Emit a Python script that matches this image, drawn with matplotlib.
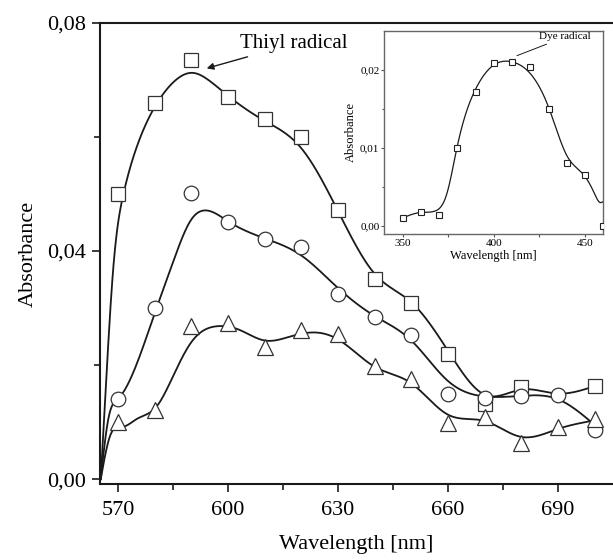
import numpy as np
import matplotlib
matplotlib.use("Agg")
import matplotlib.pyplot as plt
from matplotlib.ticker import FixedLocator, FuncFormatter

plt.rcParams["font.family"] = ["Liberation Serif", "DejaVu Serif"]

# measured points, main panel
wl = [570, 580, 590, 600, 610, 620, 630, 640, 650, 660, 670, 680, 690, 700]
abs_sq = [0.050, 0.0660, 0.0735, 0.0670, 0.0632, 0.0600, 0.0472, 0.0351, 0.0308,
          0.0220, 0.0131, 0.0162, np.nan, 0.0163]
abs_ci = [0.0140, 0.0300, 0.0502, 0.0451, 0.0421, 0.0407, 0.0324, 0.0284, 0.0253,
          0.0149, 0.0143, 0.0146, 0.0147, 0.0086]
abs_tr = [0.0101, 0.0122, 0.0269, 0.0273, 0.0232, 0.0261, 0.0254, 0.0198, 0.0176,
          0.0098, 0.0109, 0.0064, 0.0092, 0.0105]

# smoothed fit curves (knots)
fit_sq_x = [565.3, 566.8, 568.6, 571.5, 575, 580, 585, 590.5, 595, 600,
            610, 620, 630, 640, 650, 660, 670, 680, 690, 700]
fit_sq_y = [0.0, 0.0174, 0.036, 0.050, 0.058, 0.0652, 0.0695,
            0.0712, 0.0698, 0.0672, 0.0628, 0.0580, 0.0470,
            0.0360, 0.0310, 0.0225, 0.0148, 0.0157, 0.0150, 0.0163]
fit_ci_x = [565.3, 567.3, 570, 575, 580, 585, 590, 593.7, 600, 610,
            620, 630, 640, 650, 660, 670, 680, 690, 700]
fit_ci_y = [0.0, 0.0103, 0.0141, 0.020, 0.029, 0.038, 0.0455, 0.0471,
            0.0452, 0.0422, 0.0392, 0.0335, 0.0286, 0.0243, 0.0172,
            0.0145, 0.0146, 0.0140, 0.0095]
fit_tr_x = [565.3, 567.6, 571.4, 575, 580.5, 585, 590, 597, 603, 610,
            617, 624, 630, 640, 650, 660, 670, 680, 690, 700]
fit_tr_y = [0.0, 0.0071, 0.0092, 0.0105, 0.0127, 0.018, 0.024, 0.0268,
            0.0262, 0.0243, 0.0250, 0.0257, 0.0245, 0.0197, 0.0168,
            0.0113, 0.0102, 0.0074, 0.0088, 0.0103]

# inset: dye radical
wl_in = [350, 360, 370, 380, 390, 400, 410, 420, 430, 440, 450, 460]
abs_in = [0.0010, 0.0018, 0.0014, 0.0100, 0.0172, 0.0209, 0.0210, 0.0203, 0.0150,
          0.0080, 0.0065, 0.0000]
fit_in_x = [350, 360, 368, 374.4, 380, 390, 400, 410, 420, 430,
            440, 450, 455, 458, 460]
fit_in_y = [0.0010, 0.0017, 0.0019, 0.0042, 0.0102, 0.0175, 0.0206, 0.0210,
            0.0195, 0.0152, 0.0090, 0.0063, 0.0042, 0.0030, 0.0031]


def smooth(xk, yk, n=800):
    # natural cubic spline through the knots
    x = np.asarray(xk, float)
    y = np.asarray(yk, float)
    k = len(x)
    h = np.diff(x)
    A = np.zeros((k, k))
    r = np.zeros(k)
    A[0, 0] = A[-1, -1] = 1
    for i in range(1, k - 1):
        A[i, i - 1] = h[i - 1]
        A[i, i] = 2 * (h[i - 1] + h[i])
        A[i, i + 1] = h[i]
        r[i] = 3 * ((y[i + 1] - y[i]) / h[i] - (y[i] - y[i - 1]) / h[i - 1])
    c = np.linalg.solve(A, r)
    b = np.diff(y) / h - h * (2 * c[:-1] + c[1:]) / 3
    d = np.diff(c) / (3 * h)
    xs = np.linspace(x[0], x[-1], n)
    i = np.clip(np.searchsorted(x, xs) - 1, 0, k - 2)
    t = xs - x[i]
    return xs, y[i] + b[i] * t + c[i] * t**2 + d[i] * t**3


comma = FuncFormatter(lambda v, p: f"{v:.2f}".replace(".", ","))
DARK = "#1a1a1a"

fig = plt.figure(figsize=(6.13, 5.6), dpi=100)
ax = fig.add_axes([0.1631, 0.1352, 0.8369, 0.8243])

for fx, fy in [(fit_sq_x, fit_sq_y), (fit_ci_x, fit_ci_y), (fit_tr_x, fit_tr_y)]:
    xs, ys = smooth(fx, fy)
    ax.plot(xs, ys, color=DARK, lw=1.3, zorder=2)

mk = dict(ls="none", mfc="white", mec="#333333", mew=0.9, zorder=3, clip_on=False)
ax.plot(wl, abs_sq, marker="s", ms=10, **mk)
ax.plot(wl, abs_ci, marker="o", ms=10.5, **mk)
ax.plot(wl, abs_tr, marker="^", ms=11, **mk)

ax.set_xlim(565.1, 705)
ax.set_ylim(-0.0009, 0.08)
ax.xaxis.set_major_locator(FixedLocator([570, 600, 630, 660, 690]))
ax.xaxis.set_minor_locator(FixedLocator([585, 615, 645, 675]))
ax.yaxis.set_major_locator(FixedLocator([0.0, 0.04, 0.08]))
ax.yaxis.set_minor_locator(FixedLocator([0.02, 0.06]))
ax.yaxis.set_major_formatter(comma)
ax.tick_params(which="both", direction="out", width=1.2, labelsize=16, color=DARK)
ax.tick_params(which="major", length=6, pad=4)
ax.tick_params(which="minor", length=4)
ax.tick_params(axis="x", pad=6)
for s in ["left", "bottom", "top"]:
    ax.spines[s].set_linewidth(1.5)
    ax.spines[s].set_color(DARK)
ax.spines["right"].set_visible(False)
ax.set_xlabel("Wavelength [nm]", fontsize=16, labelpad=11)
ax.set_ylabel("Absorbance", fontsize=16, labelpad=6.5)

ax.annotate("Thiyl radical", xy=(594.2, 0.0720), xytext=(603.3, 0.0763),
            fontsize=15, va="center", ha="left",
            arrowprops=dict(arrowstyle="-|>", color=DARK, lw=1.0,
                            mutation_scale=10, shrinkA=2, shrinkB=0))

# inset
ins = fig.add_axes([0.6269, 0.5816, 0.3573, 0.3636])
xs, ys = smooth(fit_in_x, fit_in_y)
ins.plot(xs, ys, color=DARK, lw=0.9, zorder=2)
ins.plot(wl_in, abs_in, ls="none", marker="s", ms=5, mfc="white", mec="#222222",
         mew=0.8, zorder=3)
ins.set_xlim(340, 460)
ins.set_ylim(-0.0011, 0.025)
ins.xaxis.set_major_locator(FixedLocator([350, 400, 450]))
ins.xaxis.set_minor_locator(FixedLocator([375, 425]))
ins.yaxis.set_major_locator(FixedLocator([0.0, 0.01, 0.02]))
ins.yaxis.set_minor_locator(FixedLocator([0.005, 0.015]))
ins.yaxis.set_major_formatter(comma)
ins.tick_params(which="both", direction="out", labelsize=8, color="#555555", width=0.8)
ins.tick_params(which="major", length=2.5, pad=1)
ins.tick_params(which="minor", length=1.8)
for s in ins.spines.values():
    s.set_linewidth(1.0)
    s.set_color("#666666")
ins.set_xlabel("Wavelength [nm]", fontsize=9, labelpad=1)
ins.set_ylabel("Absorbance", fontsize=9, labelpad=2)
ins.annotate("Dye radical", xy=(412.7, 0.0218), xytext=(425.0, 0.0242),
             fontsize=8, va="center", ha="left",
             arrowprops=dict(arrowstyle="-", color=DARK, lw=0.7, shrinkA=0, shrinkB=0))

fig.savefig("out.png", dpi=100)
